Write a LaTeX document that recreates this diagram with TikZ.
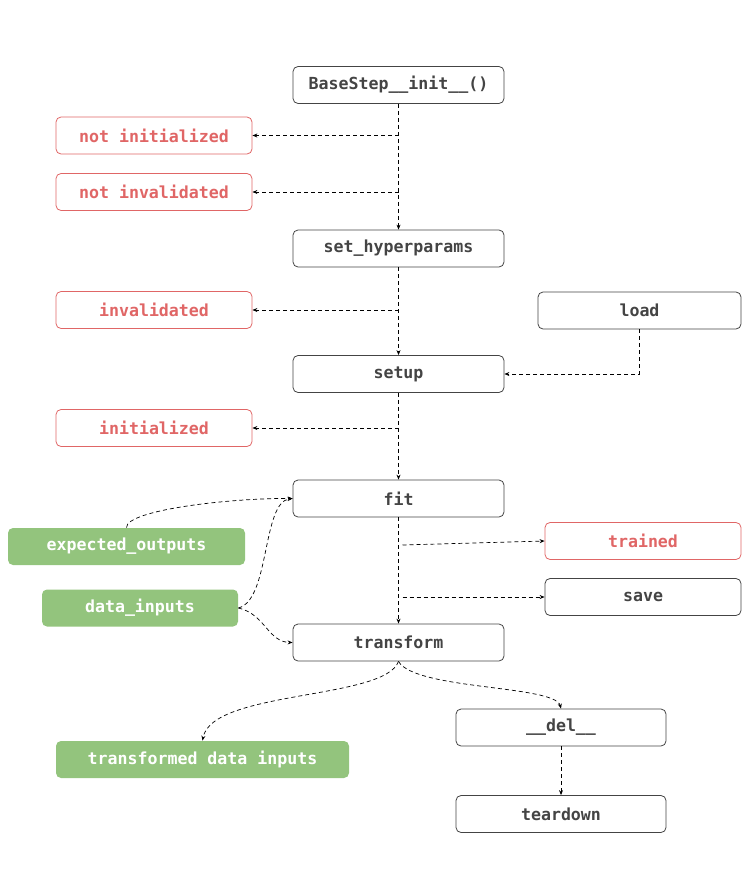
\documentclass[tikz,border=0pt]{standalone}
\usepackage{fontspec}
\setmonofont{DejaVu Sans Mono}
\usetikzlibrary{arrows.meta}
\definecolor{stepred}{HTML}{E06666}
\definecolor{stepgreen}{HTML}{93C47D}
\definecolor{stepgray}{HTML}{444444}
\tikzset{
  box/.style={draw=stepgray, line width=0.8pt, rounded corners=5pt, minimum height=37pt,
    text=stepgray, font=\fontsize{16.6}{19}\selectfont\ttfamily\bfseries, inner sep=0pt},
  state/.style={box, draw=stepred, text=stepred},
  data/.style={box, draw=none, fill=stepgreen, text=white},
  flow/.style={line width=0.7pt, dashed, dash pattern=on 4pt off 3pt, -{Stealth[length=5pt,width=4pt]}},
}

\begin{document}
\begin{tikzpicture}[x=1pt,y=-1pt]
  \useasboundingbox (0,0) rectangle (755,883);
  % main chain
  \node[box, minimum width=211pt] (init) at (398.5,85) {BaseStep\_\_init\_\_()};
  \node[box, minimum width=211pt] (hyper) at (398.5,248.5) {set\_hyperparams};
  \node[box, minimum width=211pt] (setup) at (398.5,374) {setup};
  \node[box, minimum width=211pt] (fit) at (398.5,498.5) {fit};
  \node[box, minimum width=211pt] (transform) at (398.5,642.5) {transform};
  \node[box, minimum width=210pt] (del) at (561,727.5) {\_\_del\_\_};
  \node[box, minimum width=210pt] (teardown) at (561,814) {teardown};
  \node[box, minimum width=203pt] (load) at (639.5,310.5) {load};
  \node[box, minimum width=196pt] (save) at (643,597) {save};
  % states
  \node[state, minimum width=196pt] (notinit) at (154,135.5) {not initialized};
  \node[state, minimum width=196pt] (notinval) at (154,192) {not invalidated};
  \node[state, minimum width=196pt] (inval) at (154,310) {invalidated};
  \node[state, minimum width=196pt] (initd) at (154,428) {initialized};
  \node[state, minimum width=196pt] (trained) at (643,541) {trained};
  % data
  \node[data, minimum width=237pt] (expected) at (126.5,546.5) {expected\_outputs};
  \node[data, minimum width=196pt] (inputs) at (140,608) {data\_inputs};
  \node[data, minimum width=293pt] (transformed) at (202.5,759.5) {transformed data inputs};

  \draw[flow] (init) -- (hyper);
  \draw[flow] (init.south |- notinit.east) -- (notinit);
  \draw[flow] (init.south |- notinval.east) -- (notinval);
  \draw[flow] (hyper) -- (setup);
  \draw[flow] (hyper.south |- inval.east) -- (inval);
  \draw[flow] (load.south) |- (setup.east);
  \draw[flow] (setup) -- (fit);
  \draw[flow] (setup.south |- initd.east) -- (initd);
  \draw[flow] (fit) -- (transform);
  \draw[flow] ([xshift=4pt,yshift=-4pt]fit.south |- trained.west) -- (trained.west);
  \draw[flow] ([xshift=4pt]fit.south |- save.west) -- (save.west);
  \draw[flow] (expected.north) .. controls (126,510) and (230,498) .. (fit.west);
  \draw[flow] (inputs.east) .. controls (270,600) and (262,502) .. (fit.west);
  \draw[flow] (inputs.east) .. controls (265,614) and (268,642) .. (transform.west);
  \draw[flow] (transform.south) .. controls (385,700) and (212,690) .. (transformed.north);
  \draw[flow] (transform.south) .. controls (415,690) and (555,685) .. (del.north);
  \draw[flow] (del) -- (teardown);
\end{tikzpicture}
\end{document}
